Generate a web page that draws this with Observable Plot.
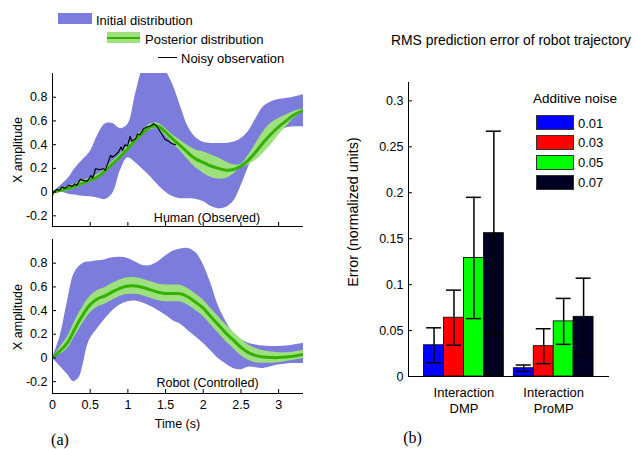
<!DOCTYPE html>
<html><head><meta charset="utf-8">
<script src="https://cdn.jsdelivr.net/npm/d3@7"></script>
<script src="https://cdn.jsdelivr.net/npm/@observablehq/plot@0.6"></script>
<style>
body{margin:0;background:#fff;}
#root{position:relative;width:635px;height:449px;font-family:"Liberation Sans",Arial,Helvetica,sans-serif;color:#000;overflow:hidden;background:#fff}
.abs{position:absolute;white-space:nowrap;line-height:1}
.pl{position:absolute}
</style></head><body><div id="root"></div>
<script>
// ---------- DATA ----------
const timeTicks = [0, 0.5, 1, 1.5, 2, 2.5, 3];
const ampTicks = [-0.2, 0, 0.2, 0.4, 0.6, 0.8];

// Human (observed) panel: initial distribution (blue band)
const humanBlueT  = [0,0.1,0.2,0.3,0.4,0.5,0.6,0.7,0.8,0.9,1.0,1.1,1.2,1.3,1.4,1.5,1.6,1.7,1.8,1.9,2.0,2.1,2.2,2.3,2.4,2.5,2.6,2.7,2.8,2.9,3.0,3.1,3.2,3.33];
const humanBlueHi = [0,0.05,0.11,0.20,0.27,0.34,0.48,0.575,0.578,0.535,0.57,0.82,1.05,1.15,1.14,1.03,0.90,0.72,0.55,0.46,0.42,0.41,0.41,0.41,0.42,0.45,0.51,0.62,0.72,0.76,0.78,0.79,0.80,0.82];
const humanBlueLo = [0,0,-0.015,-0.025,-0.035,-0.04,-0.05,-0.063,-0.01,0.18,0.29,0.25,0.19,0.13,0.06,0.0,-0.04,-0.056,-0.056,-0.06,-0.08,-0.12,-0.14,-0.13,-0.08,0.05,0.21,0.34,0.41,0.46,0.51,0.54,0.55,0.55];
// Human panel: posterior distribution (green band + mean)
const humanGreenT    = [0,0.1,0.2,0.3,0.4,0.5,0.6,0.7,0.8,0.9,1.0,1.1,1.2,1.3,1.4,1.5,1.6,1.7,1.8,1.9,2.0,2.1,2.2,2.3,2.4,2.5,2.6,2.7,2.8,2.9,3.0,3.1,3.2,3.33];
const humanGreenMean = [0,0.014,0.03,0.05,0.075,0.10,0.13,0.18,0.24,0.30,0.365,0.44,0.50,0.55,0.555,0.505,0.445,0.39,0.33,0.28,0.25,0.22,0.20,0.185,0.19,0.22,0.27,0.34,0.42,0.49,0.55,0.60,0.65,0.69];
const humanGreenHi   = [0,0.029,0.05,0.07,0.095,0.12,0.15,0.20,0.26,0.32,0.39,0.465,0.525,0.575,0.58,0.535,0.48,0.435,0.39,0.355,0.34,0.315,0.29,0.255,0.23,0.235,0.31,0.41,0.51,0.58,0.62,0.65,0.68,0.70];
const humanGreenLo   = [0,0,0.01,0.03,0.055,0.08,0.11,0.16,0.22,0.28,0.34,0.415,0.475,0.525,0.53,0.475,0.41,0.345,0.27,0.205,0.16,0.125,0.11,0.115,0.15,0.205,0.23,0.27,0.33,0.40,0.48,0.55,0.62,0.68];
// Human panel: noisy observation
const obsT = [0,0.013,0.06,0.09,0.125,0.17,0.21,0.26,0.30,0.32,0.37,0.41,0.46,0.49,0.51,0.53,0.55,0.57,0.63,0.68,0.70,0.74,0.77,0.79,0.83,0.875,0.91,0.93,0.96,0.995,1.03,1.05,1.10,1.13,1.16,1.21,1.25,1.30,1.34,1.375,1.41,1.45,1.49,1.54,1.58,1.63];
const obsV = [-0.03,0.0,0.023,0.014,0.042,0.034,0.057,0.05,0.07,0.057,0.107,0.099,0.093,0.118,0.14,0.118,0.147,0.197,0.19,0.197,0.183,0.253,0.31,0.295,0.31,0.338,0.38,0.35,0.40,0.388,0.47,0.43,0.45,0.49,0.485,0.535,0.549,0.557,0.577,0.563,0.53,0.49,0.445,0.43,0.41,0.40];

// Robot (controlled) panel: initial distribution
const robotBlueT  = [0,0.1,0.2,0.28,0.35,0.41,0.46,0.5,0.6,0.7,0.8,0.9,1.0,1.1,1.2,1.3,1.4,1.5,1.6,1.7,1.8,1.9,2.0,2.1,2.2,2.3,2.4,2.5,2.6,2.7,2.8,2.9,3.0,3.1,3.2,3.33];
const robotBlueHi = [0,0.18,0.48,0.70,0.77,0.80,0.81,0.81,0.82,0.83,0.845,0.85,0.84,0.81,0.78,0.78,0.81,0.86,0.90,0.92,0.925,0.89,0.79,0.63,0.44,0.31,0.21,0.155,0.125,0.11,0.10,0.097,0.096,0.10,0.11,0.125];
const robotBlueLo = [0,-0.07,-0.14,-0.20,-0.17,-0.046,0.096,0.16,0.25,0.33,0.40,0.45,0.475,0.48,0.465,0.437,0.40,0.36,0.315,0.285,0.23,0.18,0.125,0.06,-0.005,-0.05,-0.088,-0.10,-0.078,-0.082,-0.088,-0.075,-0.06,-0.05,-0.047,-0.046];
// Robot panel: posterior distribution
const robotGreenT    = [0,0.1,0.2,0.3,0.4,0.5,0.6,0.7,0.8,0.9,1.0,1.1,1.2,1.3,1.4,1.5,1.6,1.7,1.8,1.9,2.0,2.1,2.2,2.3,2.4,2.5,2.6,2.7,2.8,2.9,3.0,3.1,3.2,3.33];
const robotGreenMean = [0,0.06,0.13,0.25,0.36,0.45,0.50,0.525,0.56,0.59,0.607,0.607,0.595,0.575,0.555,0.545,0.545,0.542,0.515,0.47,0.42,0.35,0.28,0.21,0.15,0.09,0.045,0.02,0.008,0.003,0.003,0.008,0.015,0.03];
const robotGreenHi   = [0,0.09,0.18,0.315,0.43,0.52,0.57,0.595,0.63,0.66,0.677,0.677,0.665,0.645,0.625,0.615,0.615,0.612,0.585,0.54,0.49,0.42,0.35,0.28,0.22,0.16,0.11,0.08,0.06,0.05,0.045,0.045,0.05,0.065];
const robotGreenLo   = [0,0.03,0.08,0.185,0.29,0.38,0.43,0.455,0.49,0.52,0.537,0.537,0.525,0.505,0.485,0.475,0.475,0.472,0.445,0.40,0.35,0.28,0.21,0.14,0.08,0.02,-0.02,-0.04,-0.045,-0.045,-0.04,-0.03,-0.02,-0.005];

// Bar chart
const groups = ["Interaction\nDMP", "Interaction\nProMP"];
const noiseLevels = ["0.01", "0.03", "0.05", "0.07"];
const noiseColors = ["#0000ff", "#ff0000", "#00ff00", "#000022"];
const dmpMean = [0.034, 0.064, 0.129, 0.156];
const dmpErr  = [0.019, 0.030, 0.066, 0.111];
const prompMean = [0.009, 0.033, 0.060, 0.065];
const prompErr  = [0.0035, 0.019, 0.025, 0.042];
const errTicks = [0, 0.05, 0.1, 0.15, 0.2, 0.25, 0.3];

// ---------- STYLE ----------
const BLUE = "#7c7cdc", LGREEN = "#9ee07e", DGREEN = "#33b000";
const FONT = "'Liberation Sans', Arial, Helvetica, sans-serif";
const SERIF = "'Liberation Serif', 'Times New Roman', serif";
const root = document.getElementById("root");

function place(node, left, top) {
  const w = document.createElement("div");
  w.className = "pl"; w.style.left = left + "px"; w.style.top = top + "px";
  w.appendChild(node); root.appendChild(w);
}
function txt(s, x, y, o = {}) {
  const d = document.createElement("div");
  d.className = "abs"; d.textContent = s;
  d.style.left = x + "px"; d.style.top = y + "px";
  d.style.fontSize = (o.size || 12.5) + "px";
  if (o.family) d.style.fontFamily = o.family;
  const tx = o.anchor === "middle" ? "-50%" : o.anchor === "end" ? "-100%" : "0";
  d.style.transform = `translate(${tx},-50%)` + (o.rotate ? ` rotate(${o.rotate}deg)` : "");
  root.appendChild(d);
}
function box(x, y, w, h, bg, border) {
  const d = document.createElement("div");
  d.className = "abs";
  Object.assign(d.style, {left: x + "px", top: y + "px", width: w + "px", height: h + "px", background: bg, boxSizing: "border-box"});
  if (border) d.style.border = border;
  root.appendChild(d);
  return d;
}

// ---------- LEFT PANELS ----------
function panel({blueT, blueHi, blueLo, gT, gHi, gLo, gMean, obs, showX, height, marginTop, marginBottom, yDomain}) {
  const width = 320, mL = 52, mR = 17;
  const xDomain = [0, 3.33];
  const pxX = (width - mL - mR) / (xDomain[1] - xDomain[0]);
  const pxY = (height - marginTop - marginBottom) / (yDomain[1] - yDomain[0]);
  const tx = 4 / pxX, ty = 4 / pxY;
  const blue = blueT.map((t, i) => ({t, hi: blueHi[i], lo: blueLo[i]}));
  const green = gT.map((t, i) => ({t, hi: gHi[i], lo: gLo[i], m: gMean[i]}));
  const marks = [
    Plot.areaY(blue, {x: "t", y1: "lo", y2: "hi", fill: BLUE, curve: "catmull-rom", clip: true}),
    Plot.areaY(green, {x: "t", y1: "lo", y2: "hi", fill: LGREEN, curve: "catmull-rom", clip: true}),
    Plot.lineY(green, {x: "t", y: "m", stroke: DGREEN, strokeWidth: 3, curve: "catmull-rom", clip: true})
  ];
  if (obs) marks.push(Plot.lineY(obs, {x: "t", y: "v", stroke: "black", strokeWidth: 1.2}));
  marks.push(
    Plot.ruleX([xDomain[0]], {stroke: "black", strokeWidth: 1}),
    Plot.ruleY([yDomain[0]], {stroke: "black", strokeWidth: 1}),
    Plot.ruleY(ampTicks, {y: d => d, x1: xDomain[0], x2: xDomain[0] + tx, stroke: "black"}),
    Plot.ruleX(timeTicks, {x: d => d, y1: yDomain[0], y2: yDomain[0] + ty, stroke: "black"}),
    Plot.axisY(ampTicks, {tickSize: 0, tickPadding: 5, tickFormat: d => String(d), label: null})
  );
  if (showX) marks.push(Plot.axisX(timeTicks, {tickSize: 0, tickPadding: 7, tickFormat: d => String(d), label: null}));
  return Plot.plot({
    width, height, marginLeft: mL, marginRight: mR, marginTop, marginBottom,
    style: {fontFamily: FONT, fontSize: "12.5px", background: "transparent", overflow: "visible", color: "black"},
    x: {domain: xDomain, axis: null},
    y: {domain: yDomain, axis: null},
    marks
  });
}

const obs = obsT.map((t, i) => ({t, v: obsV[i]}));
place(panel({blueT: humanBlueT, blueHi: humanBlueHi, blueLo: humanBlueLo,
  gT: humanGreenT, gHi: humanGreenHi, gLo: humanGreenLo, gMean: humanGreenMean, obs,
  showX: false, height: 166, marginTop: 8, marginBottom: 5, yDomain: [-0.29, 1.0]}), 0, 65);
place(panel({blueT: robotBlueT, blueHi: robotBlueHi, blueLo: robotBlueLo,
  gT: robotGreenT, gHi: robotGreenHi, gLo: robotGreenLo, gMean: robotGreenMean, obs: null,
  showX: true, height: 201, marginTop: 7, marginBottom: 40, yDomain: [-0.30, 1.0]}), 0, 232);

// left legend
box(58, 13, 34, 11, BLUE);
txt("Initial distribution", 96, 20, {size: 13});
box(107, 32, 33, 11, LGREEN);
box(107, 36.5, 33, 2.5, DGREEN);
txt("Posterior distribution", 145, 39, {size: 13});
box(158, 56.5, 19, 1.5, "#000");
txt("Noisy observation", 181, 57.5, {size: 13});

txt("Human (Observed)", 207, 217.5, {anchor: "middle", size: 12.5});
txt("Robot (Controlled)", 207.5, 382.5, {anchor: "middle", size: 12.5});
txt("X amplitude", 18, 150, {anchor: "middle", rotate: -90, size: 12.5});
txt("X amplitude", 18, 317, {anchor: "middle", rotate: -90, size: 12.5});
txt("Time (s)", 177.5, 424, {anchor: "middle", size: 12.5});
txt("(a)", 60, 440, {anchor: "middle", size: 16, family: SERIF});

// ---------- BAR CHART ----------
const bars = [];
groups.forEach((g, gi) => noiseLevels.forEach((n, k) => {
  const mean = gi === 0 ? dmpMean[k] : prompMean[k];
  const err = gi === 0 ? dmpErr[k] : prompErr[k];
  bars.push({gi: gi + 1, k, noise: n, mean, err});
}));
const bw = 20 / 90;               // bar width in group units
const cap = 7.5 / 90;             // half cap width
const bx1 = d => d.gi + (d.k - 2) * bw;
const bx2 = d => d.gi + (d.k - 1) * bw;
const bc = d => d.gi + (d.k - 1.5) * bw;
const barX = [0.382, 2.622], barY = [0, 0.32];
const barH = 346, barMT = 7, barMB = 45;
const barPxX = (280 - 68 - 11) / (barX[1] - barX[0]);
place(Plot.plot({
  width: 280, height: barH, marginLeft: 68, marginRight: 11, marginTop: barMT, marginBottom: barMB,
  style: {fontFamily: FONT, fontSize: "12.5px", background: "transparent", overflow: "visible", color: "black"},
  x: {domain: barX, axis: null},
  y: {domain: barY, axis: null},
  color: {domain: noiseLevels, range: noiseColors},
  marks: [
    Plot.rect(bars, {x1: bx1, x2: bx2, y1: 0, y2: "mean", fill: "noise", stroke: "black", strokeWidth: 0.8}),
    Plot.ruleX(bars, {x: bc, y1: d => d.mean - d.err, y2: d => d.mean + d.err, stroke: "black", strokeWidth: 1.5}),
    Plot.ruleY(bars, {y: d => d.mean + d.err, x1: d => bc(d) - cap, x2: d => bc(d) + cap, stroke: "black", strokeWidth: 1.5}),
    Plot.ruleY(bars, {y: d => d.mean - d.err, x1: d => bc(d) - cap, x2: d => bc(d) + cap, stroke: "black", strokeWidth: 1.5}),
    Plot.ruleX([barX[0]], {stroke: "black"}),
    Plot.ruleY([0], {stroke: "black"}),
    Plot.ruleY(errTicks, {y: d => d, x1: barX[0], x2: barX[0] + 4 / barPxX, stroke: "black"}),
    Plot.axisY(errTicks, {tickSize: 0, tickPadding: 5, tickFormat: d => String(d), label: null}),
    Plot.axisX([1, 2], {tickSize: 0, tickPadding: 8, tickFormat: i => groups[i - 1], lineHeight: 1.3, fontSize: 13, label: null})
  ]
}), 340, 75);

txt("RMS prediction error of robot trajectory", 511, 41, {anchor: "middle", size: 13.9});
txt("Error (normalized units)", 353, 212, {anchor: "middle", rotate: -90, size: 14.3});
txt("Additive noise", 533, 99, {size: 13.5});
noiseLevels.forEach((n, k) => {
  box(536, 115 + k * 19.9, 38, 15, noiseColors[k], "1px solid #333");
  txt(n, 578, 122.5 + k * 19.9, {size: 13});
});
txt("(b)", 412.5, 438, {anchor: "middle", size: 16, family: SERIF});
</script></body></html>
